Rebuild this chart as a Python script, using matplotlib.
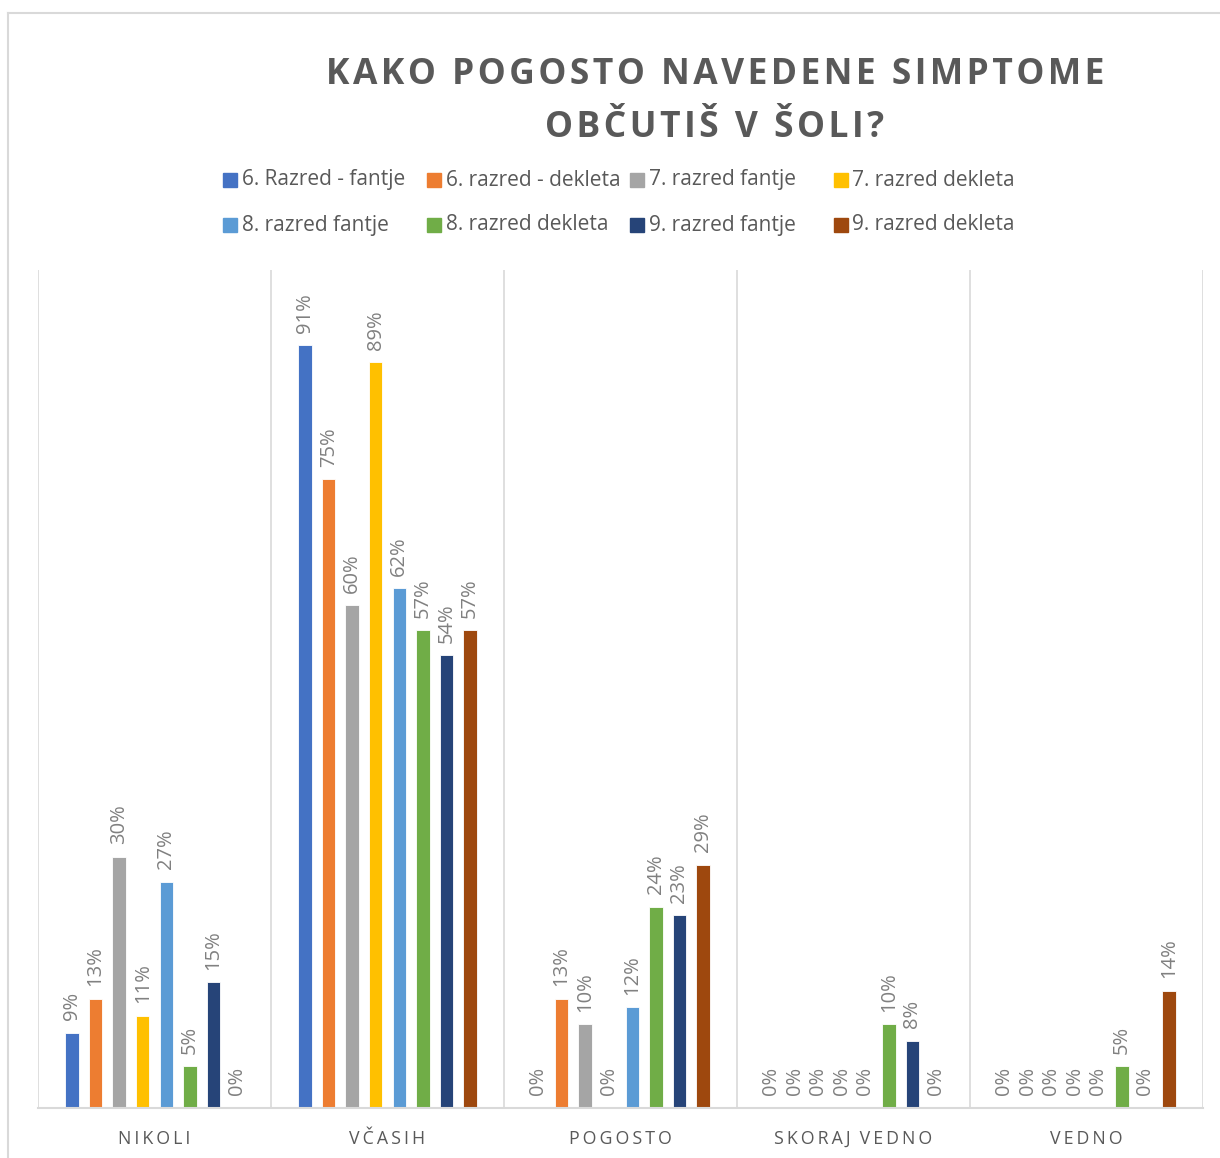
import matplotlib.pyplot as plt
from matplotlib.lines import Line2D
import numpy as np

plt.rcParams['font.family'] = ['Open Sans', 'DejaVu Sans']

# podatki
kategorije = ['NIKOLI', 'VČASIH', 'POGOSTO', 'SKORAJ VEDNO', 'VEDNO']
serije = ['6. Razred - fantje', '6. razred - dekleta', '7. razred fantje', '7. razred dekleta',
          '8. razred fantje', '8. razred dekleta', '9. razred fantje', '9. razred dekleta']
vrednosti = [
    [9, 91, 0, 0, 0],
    [13, 75, 13, 0, 0],
    [30, 60, 10, 0, 0],
    [11, 89, 0, 0, 0],
    [27, 62, 12, 0, 0],
    [5, 57, 24, 10, 5],
    [15, 54, 23, 8, 0],
    [0, 57, 29, 0, 14],
]
barve = ['#4472C4', '#ED7D31', '#A5A5A5', '#FFC000', '#5B9BD5', '#70AD47', '#264478', '#9E480E']

W, H = 1220, 1158
fig = plt.figure(figsize=(W / 100, H / 100), dpi=100)
ax = fig.add_axes([38 / W, 1 - 1108 / H, (1203 - 38) / W, (1108 - 270) / H])

x = np.arange(len(kategorije))
korak = 0.101
sirina = 0.058
for i, (ime, v) in enumerate(zip(serije, vrednosti)):
    pos = x + (i - 3.5) * korak
    ax.bar(pos, v, width=sirina, color=barve[i], edgecolor='white', linewidth=0.6, label=ime)
    for px, val in zip(pos, v):
        ax.text(px, val + 1.5, f'{val}%', rotation=90, ha='center', va='bottom',
                fontsize=14.5, color='#808080')

ax.set_xlim(-0.5, len(kategorije) - 0.5)
ax.set_ylim(0, 100)
ax.set_yticks([])
ax.set_xticks(x)
ax.set_xticklabels(['\u2009'.join(k).replace('\u2009 \u2009', '\u2009\u2009\u2009') for k in kategorije],
                   fontsize=12.8, color='#595959')
ax.tick_params(axis='x', length=0, pad=16)
for s in ['top', 'left', 'right']:
    ax.spines[s].set_visible(False)
ax.spines['bottom'].set_color('#D9D9D9')
ax.spines['bottom'].set_linewidth(1.5)
for b in np.arange(-0.5, len(kategorije), 1):
    ax.axvline(b, color='#D9D9D9', linewidth=1.2, zorder=0)

# naslov
fig.text(715 / W, 1 - 75 / H, '\u200a'.join('KAKO POGOSTO NAVEDENE SIMPTOME'),
         ha='center', va='center', fontsize=25.5, fontweight='bold', color='#595959')
fig.text(715 / W, 1 - 128 / H, '\u200a'.join('OBČUTIŠ V ŠOLI?'),
         ha='center', va='center', fontsize=25.5, fontweight='bold', color='#595959')

# legenda
for i, ime in enumerate(serije):
    stolpec, vrstica = i % 4, i // 4
    lx = 223 + stolpec * 203.5
    ly = 180 + vrstica * 45
    fig.patches.append(plt.Rectangle((lx / W, 1 - (ly + 7) / H), 14 / W, 14 / H,
                                     transform=fig.transFigure, color=barve[i]))
    fig.text((lx + 19) / W, 1 - ly / H, ime, ha='left', va='center', fontsize=15, color='#595959')

# okvir
fig.add_artist(Line2D([8 / W, 1], [1 - 13 / H, 1 - 13 / H], color='#D9D9D9', linewidth=1.5,
                      transform=fig.transFigure))
fig.add_artist(Line2D([8 / W, 8 / W], [0, 1 - 13 / H], color='#D9D9D9', linewidth=1.5,
                      transform=fig.transFigure))

fig.savefig('out.png', dpi=100)
